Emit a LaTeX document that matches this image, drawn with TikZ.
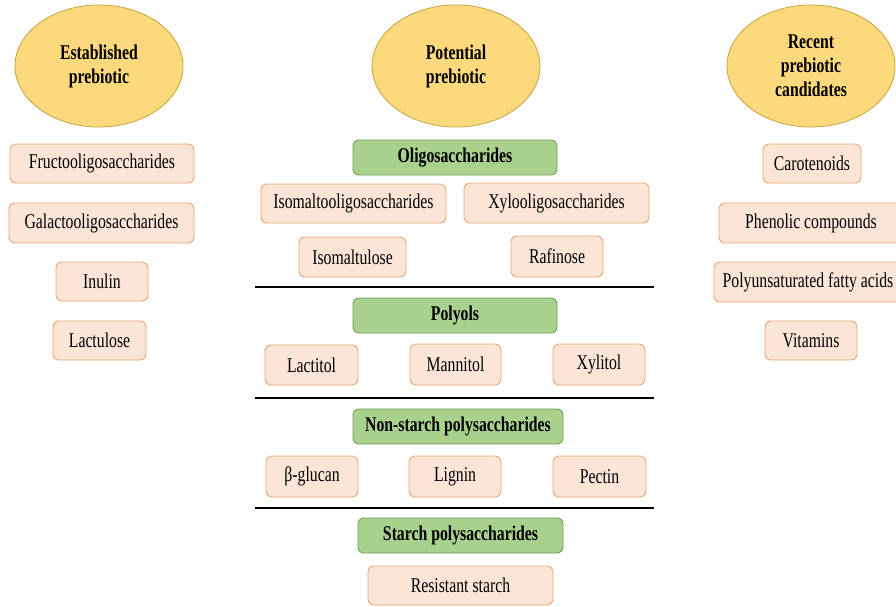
\documentclass[tikz,border=0pt]{standalone}
\usepackage{fontspec}
\setmainfont[FakeStretch=0.75]{Liberation Serif}
\usetikzlibrary{shapes.geometric}
\definecolor{ellfill}{RGB}{252,217,125}
\definecolor{elldraw}{RGB}{200,163,62}
\definecolor{peachfill}{RGB}{251,229,214}
\definecolor{peachdraw}{RGB}{236,165,118}
\definecolor{greenfill}{RGB}{169,209,142}
\definecolor{greendraw}{RGB}{112,160,88}
\tikzset{
  cat/.style={ellipse, draw=elldraw, fill=ellfill, line width=0.8pt, minimum width=168pt, minimum height=122pt, inner sep=0pt, align=center, font=\fontsize{21}{24}\selectfont\bfseries},
  item/.style={rectangle, rounded corners=6pt, draw=peachdraw, fill=peachfill, line width=0.9pt, inner sep=1pt, align=center, font=\fontsize{21}{24}\selectfont},
  grp/.style={rectangle, rounded corners=6pt, draw=greendraw, fill=greenfill, line width=0.9pt, inner sep=1pt, align=center, font=\fontsize{21}{24}\selectfont\bfseries},
  sep/.style={line width=1.8pt, black}
}
\begin{document}
\begin{tikzpicture}[x=1pt,y=-1pt]
\useasboundingbox (0,0) rectangle (896,607);
\clip (0,0) rectangle (896,607);
\fill[white] (0,0) rectangle (896,607);
% ellipses
\node[cat] (est) at (99,66) {Established\\prebiotic};
\node[cat] (pot) at (456,66) {Potential\\prebiotic};
\node[cat] (rec) at (811,66) {Recent\\prebiotic\\candidates};
% left column
\node[item, minimum width=184pt, minimum height=39pt] (fos) at (102,163.5) {Fructooligosaccharides};
\node[item, minimum width=185pt, minimum height=40pt] (gos) at (101.5,223) {Galactooligosaccharides};
\node[item, minimum width=92pt, minimum height=39pt] (inu) at (102,281.5) {Inulin};
\node[item, minimum width=93pt, minimum height=39pt] (lac) at (99.5,340.5) {Lactulose};
% middle column
\node[grp, minimum width=204pt, minimum height=35pt] (oligo) at (455,157.5) {Oligosaccharides};
\node[item, minimum width=185pt, minimum height=39pt] (imo) at (353.5,203.5) {Isomaltooligosaccharides};
\node[item, minimum width=185pt, minimum height=40pt] (xos) at (556.5,203) {Xylooligosaccharides};
\node[item, minimum width=107pt, minimum height=40pt] (isom) at (352.5,257) {Isomaltulose};
\node[item, minimum width=92pt, minimum height=41pt] (raf) at (557,256.5) {Rafinose};
\coordinate (l1a) at (255,287); \coordinate (l1b) at (654,287);
\draw[sep] (l1a) -- (l1b);
\node[grp, minimum width=204pt, minimum height=35pt] (poly) at (455,315.5) {Polyols};
\node[item, minimum width=93pt, minimum height=40pt] (lactit) at (311.5,365) {Lactitol};
\node[item, minimum width=91pt, minimum height=41pt] (mann) at (455.5,364.5) {Mannitol};
\node[item, minimum width=92pt, minimum height=41pt] (xyl) at (599,364.5) {Xylitol};
\coordinate (l2a) at (255,398); \coordinate (l2b) at (654,398);
\draw[sep] (l2a) -- (l2b);
\node[grp, minimum width=210pt, minimum height=35pt] (nsp) at (458,426.5) {Non-starch polysaccharides};
\node[item, minimum width=92pt, minimum height=41pt] (bglu) at (312,476.5) {β-glucan};
\node[item, minimum width=92pt, minimum height=41pt] (lig) at (455,476.5) {Lignin};
\node[item, minimum width=93pt, minimum height=41pt] (pec) at (599.5,476.5) {Pectin};
\coordinate (l3a) at (255,508); \coordinate (l3b) at (654,508);
\draw[sep] (l3a) -- (l3b);
\node[grp, minimum width=205pt, minimum height=35pt] (sp) at (460.5,535.5) {Starch polysaccharides};
\node[item, minimum width=185pt, minimum height=39pt] (rs) at (460.5,585.5) {Resistant starch};
% right column
\node[item, minimum width=98pt, minimum height=39pt] (car) at (812,163.5) {Carotenoids};
\node[item, minimum width=184pt, minimum height=40pt] (phe) at (811,223) {Phenolic compounds};
\node[item, minimum width=196pt, minimum height=40pt] (pufa) at (812,282) {};
\node[font=\fontsize{21}{24}\selectfont, inner sep=0pt] (pufat) at (808,282) {Polyunsaturated fatty acids};
\node[item, minimum width=92pt, minimum height=39pt] (vit) at (811,340.5) {Vitamins};
\end{tikzpicture}
\end{document}
